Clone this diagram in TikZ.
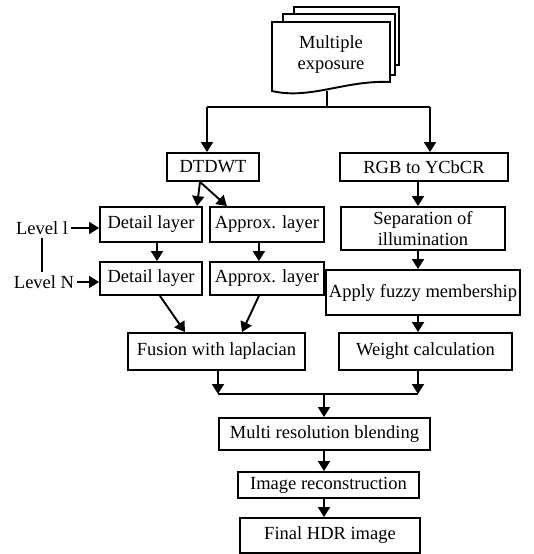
\documentclass[tikz,border=0pt]{standalone}
\usepackage{fontspec}
\setmainfont{Liberation Serif}
\usetikzlibrary{positioning,arrows.meta}

\begin{document}
\begin{tikzpicture}[x=1pt,y=-1pt,
	box/.style={draw,line width=1.9pt,inner sep=0pt,align=center,
		font=\fontsize{18.5}{21}\selectfont},
	label/.style={inner sep=3pt,font=\fontsize{18.5}{21}\selectfont},
	page/.style={draw,line width=1.9pt,fill=white},
	link/.style={line width=1.9pt},
	flow/.style={line width=1.9pt,-{Triangle[width=12pt,length=10pt]}}]

	\useasboundingbox (0,0) rectangle (534,554);

	% stack of exposures
	\draw[page] (294,7) rectangle (399,65);
	\draw[page] (283,14) rectangle (395,75);
	\draw[page] (272,91) -- (272,22) -- (390,22) -- (390,82)
		.. controls (345,80) and (310,100) .. cycle;
	\node[label,align=center] (doc) at (331,55) {Multiple\\exposure};

	% left branch
	\node[box,minimum width=92,minimum height=28] (dtdwt) at (213,167) {DTDWT};
	\node[box,minimum width=102,minimum height=35] (det1) at (151,224.5) {Detail layer};
	\node[box,minimum width=114,minimum height=35,right=6 of det1] (app1) {Approx. layer};
	\node[box,minimum width=102,minimum height=33] (detN) at (151,278.5) {Detail layer};
	\node[box,minimum width=114,minimum height=33,right=6 of detN] (appN) {Approx. layer};
	\node[box,minimum width=177,minimum height=37] (fusion) at (216.5,351.5) {Fusion with laplacian};

	% right branch
	\node[box,minimum width=168,minimum height=28] (rgb) at (424,167) {RGB to YCbCR};
	\node[box,minimum width=164,minimum height=43] (sep) at (423,228.5) {Separation of\\illumination};
	\node[box,minimum width=194,minimum height=45] (fuzzy) at (423,292.5) {Apply fuzzy membership};
	\node[box,minimum width=173,minimum height=37] (weight) at (425.5,351.5) {Weight calculation};

	% merged part
	\node[box,minimum width=211,minimum height=32] (multi) at (324.5,434) {Multi resolution blending};
	\node[box,minimum width=181,minimum height=26] (recon) at (328.5,485) {Image reconstruction};
	\node[box,minimum width=180,minimum height=35] (final) at (330,535.5) {Final HDR image};

	% levels
	\node[label] (lv1) at (42,228) {Level l};
	\node[label] (lvN) at (44,282) {Level N};

	\coordinate (docbot) at (327,91);
	\coordinate (split) at (327,107);
	\coordinate (sl) at (207,107);
	\coordinate (sr) at (430,107);
	\coordinate (ml) at (218,394);
	\coordinate (mr) at (418,394);
	\coordinate (mid) at (324,394);

	\draw[link] (docbot) -- (split);
	\draw[link] (sl) -- (sr);
	\draw[flow] (sl) -- (sl |- dtdwt.north);
	\draw[flow] (sr) -- (sr |- rgb.north);

	\draw[flow] ([xshift=-13]dtdwt.south) -- ([xshift=46]det1.north);
	\draw[flow] ([xshift=-13]dtdwt.south) -- ([xshift=-40]app1.north);
	\draw[flow] ([xshift=6]det1.south) -- ([xshift=6]detN.north);
	\draw[flow] ([xshift=-8]app1.south) -- ([xshift=-8]appN.north);
	\draw[flow] ([xshift=9]detN.south) -- ([xshift=-31.5]fusion.north);
	\draw[flow] ([xshift=-8]appN.south) -- ([xshift=25.5]fusion.north);

	\draw[flow] (rgb.south -| mr) -- (sep.north -| mr);
	\draw[flow] (sep.south -| mr) -- (fuzzy.north -| mr);
	\draw[flow] (fuzzy.south -| mr) -- (weight.north -| mr);

	\draw[flow] (fusion.south -| ml) -- (ml);
	\draw[flow] (weight.south -| mr) -- (mr);
	\draw[link] (ml) -- (mr);
	\draw[flow] (mid) -- (mid |- multi.north);
	\draw[flow] (multi.south -| mid) -- (recon.north -| mid);
	\draw[flow] (recon.south -| mid) -- (final.north -| mid);

	\draw[flow] (lv1.east) -- (lv1.east -| det1.west);
	\draw[flow] (lvN.east) -- (lvN.east -| detN.west);
	\draw[link] (lv1.south) -- (lv1.south |- lvN.north);

\end{tikzpicture}
\end{document}
